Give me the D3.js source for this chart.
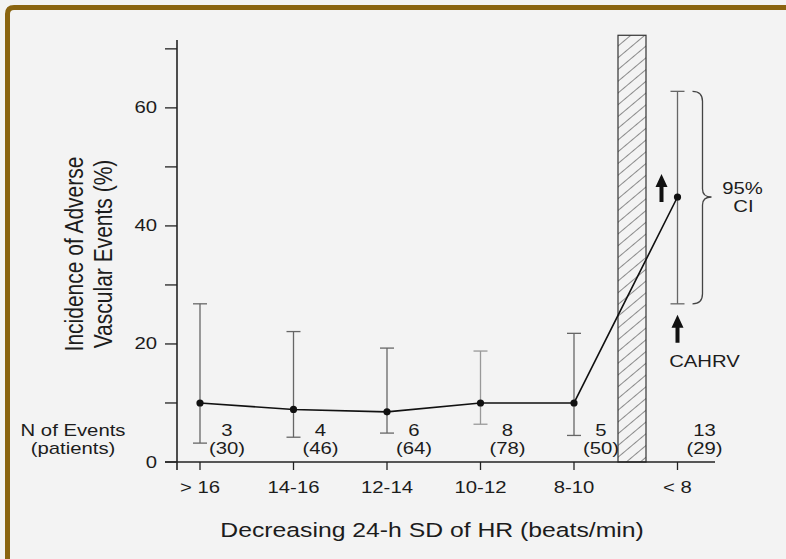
<!DOCTYPE html>
<html>
<head>
<meta charset="utf-8">
<script src="https://cdn.jsdelivr.net/npm/d3@7"></script>
<style>
  body { margin: 0; background: #f3f3f3; }
  svg text { font-family: "Liberation Sans", Arial, sans-serif; fill: #1c1c1c; }
</style>
</head>
<body>
<div id="chart"></div>
<script>
/* DATA */
const categories = ['> 16', '14-16', '12-14', '10-12', '8-10', '< 8'];
const incidence = [10.0, 8.9, 8.5, 10.0, 10.0, 44.9];
const ciLower = [3.2, 4.2, 4.9, 6.4, 4.5, 26.8];
const ciUpper = [26.8, 22.1, 19.3, 18.8, 21.8, 62.8];
const events = ['3', '4', '6', '8', '5', '13'];
const patients = ['(30)', '(46)', '(64)', '(78)', '(50)', '(29)'];
const yTicks = [0, 10, 20, 30, 40, 50, 60, 70];
const yLabels = [0, 20, 40, 60];

const W = 786, H = 559;
const SX = 1.27;       // the scanned figure's type is stretched sideways
const small = 16;      // px, labels
const big = 19.5;      // px, axis titles

const svg = d3.select('#chart')
  .append('svg')
  .attr('width', W)
  .attr('height', H);

svg.append('rect').attr('width', W).attr('height', H).attr('fill', '#f3f3f3');

// brown frame, top and left only
svg.append('path')
  .attr('d', `M7.5,${H} L7.5,14 Q7.5,7.5 14,7.5 L${W},7.5`)
  .attr('fill', 'none')
  .attr('stroke', '#8a6410')
  .attr('stroke-width', 5);

// text helper: stretched horizontally
function label(sel, px, py, txt, size, anchor) {
  return sel.append('text')
    .attr('transform', `translate(${px},${py}) scale(${SX},1)`)
    .attr('text-anchor', anchor || 'middle')
    .style('font-size', size + 'px')
    .text(txt);
}

// scales
const y = d3.scaleLinear().domain([0, 71.5]).range([462, 40]);
const xLin = d3.scaleLinear().domain([0, 4]).range([200, 574]);
const breakGap = 10; // extra space for the hatched break before the last group
const x = i => xLin(i) + (i === 5 ? breakGap : 0);

const axisLeft = 177;

// hatch pattern
const defs = svg.append('defs');
const pat = defs.append('pattern')
  .attr('id', 'hatch')
  .attr('patternUnits', 'userSpaceOnUse')
  .attr('width', 9).attr('height', 9)
  .attr('patternTransform', 'rotate(50)');
pat.append('line')
  .attr('x1', 0).attr('y1', 0).attr('x2', 0).attr('y2', 9)
  .attr('stroke', '#333').attr('stroke-width', 1.1);

// break bar
svg.append('rect')
  .attr('x', xLin(4) + 44)
  .attr('y', y(72.3))
  .attr('width', 28)
  .attr('height', y(0) - y(72.3))
  .attr('fill', 'url(#hatch)')
  .attr('stroke', '#333')
  .attr('stroke-width', 1.2);

// y axis
svg.append('line')
  .attr('x1', axisLeft).attr('x2', axisLeft)
  .attr('y1', y(71.5)).attr('y2', y(0) + 8)
  .attr('stroke', '#222').attr('stroke-width', 1.6);

svg.selectAll('.ytick')
  .data(yTicks)
  .enter()
  .append('line')
  .attr('x1', axisLeft - 12).attr('x2', axisLeft)
  .attr('y1', d => y(d)).attr('y2', d => y(d))
  .attr('stroke', '#222').attr('stroke-width', 1.3);

yLabels.forEach(d => {
  label(svg, axisLeft - 20, y(d) + 5.5, d, small, 'end');
});

// x axis
svg.append('line')
  .attr('x1', axisLeft - 12).attr('x2', 715)
  .attr('y1', y(0)).attr('y2', y(0))
  .attr('stroke', '#222').attr('stroke-width', 1.6);

svg.selectAll('.xtick')
  .data(categories)
  .enter()
  .append('line')
  .attr('x1', (d, i) => x(i)).attr('x2', (d, i) => x(i))
  .attr('y1', y(0)).attr('y2', y(0) + 8)
  .attr('stroke', '#222').attr('stroke-width', 1.3);

categories.forEach((d, i) => label(svg, x(i), 493, d, small));

// axis titles
label(svg, 432, 537, 'Decreasing 24-h SD of HR (beats/min)', big);

const yTitle = svg.append('text')
  .attr('transform', 'translate(0,254) rotate(-90) scale(1,1.25)')
  .attr('text-anchor', 'middle')
  .style('font-size', '21px');
yTitle.append('tspan').attr('x', 0).attr('y', 83 / 1.25).text('Incidence of Adverse');
yTitle.append('tspan').attr('x', 0).attr('y', 112 / 1.25).text('Vascular Events (%)');

// error bars
const eb = svg.selectAll('.eb')
  .data(categories)
  .enter()
  .append('g')
  .attr('stroke', (d, i) => i === 3 ? '#999' : '#666')
  .attr('stroke-width', 1.3);

eb.append('line')
  .attr('x1', (d, i) => x(i)).attr('x2', (d, i) => x(i))
  .attr('y1', (d, i) => y(ciLower[i])).attr('y2', (d, i) => y(ciUpper[i]));
eb.append('line')
  .attr('x1', (d, i) => x(i) - 7).attr('x2', (d, i) => x(i) + 7)
  .attr('y1', (d, i) => y(ciLower[i])).attr('y2', (d, i) => y(ciLower[i]));
eb.append('line')
  .attr('x1', (d, i) => x(i) - 7).attr('x2', (d, i) => x(i) + 7)
  .attr('y1', (d, i) => y(ciUpper[i])).attr('y2', (d, i) => y(ciUpper[i]));

// line + dots
const line = d3.line()
  .x((d, i) => x(i))
  .y(d => y(d));

svg.append('path')
  .datum(incidence)
  .attr('d', line)
  .attr('fill', 'none')
  .attr('stroke', '#111')
  .attr('stroke-width', 1.6);

svg.selectAll('.dot')
  .data(incidence)
  .enter()
  .append('circle')
  .attr('cx', (d, i) => x(i))
  .attr('cy', d => y(d))
  .attr('r', 3.6)
  .attr('fill', '#111');

// N of events
label(svg, 73, 436, 'N of Events', small);
label(svg, 73, 454, '(patients)', small);

events.forEach((d, i) => label(svg, x(i) + 27, 436, d, small));
patients.forEach((d, i) => label(svg, x(i) + 27, 454, d, small));

// 95% CI brace
const last = categories.length - 1;
const bx = x(last) + 15;
const bTop = y(ciUpper[last]), bBot = y(ciLower[last]);
const bMid = y(incidence[last]);
svg.append('path')
  .attr('d', `M${bx},${bTop} Q${bx + 10},${bTop} ${bx + 10},${bTop + 10}
    L${bx + 10},${bMid - 8} Q${bx + 10},${bMid} ${bx + 19},${bMid}
    Q${bx + 10},${bMid} ${bx + 10},${bMid + 8}
    L${bx + 10},${bBot - 10} Q${bx + 10},${bBot} ${bx},${bBot}`)
  .attr('fill', 'none')
  .attr('stroke', '#444')
  .attr('stroke-width', 1.3);

label(svg, bx + 50, bMid - 3, '95%', small);
label(svg, bx + 51, bMid + 15, 'CI', small);

// arrows
function arrow(cx, yTop, len) {
  svg.append('path')
    .attr('d', `M${cx},${yTop} L${cx + 6},${yTop + 13} L${cx + 2},${yTop + 13}
      L${cx + 2},${yTop + len} L${cx - 2},${yTop + len} L${cx - 2},${yTop + 13}
      L${cx - 6},${yTop + 13} Z`)
    .attr('fill', '#111');
}
arrow(x(last) - 16, bMid - 23, 28);
arrow(x(last), bBot + 11, 28);

label(svg, x(last) + 27, 367, 'CAHRV', small);
</script>
</body>
</html>
